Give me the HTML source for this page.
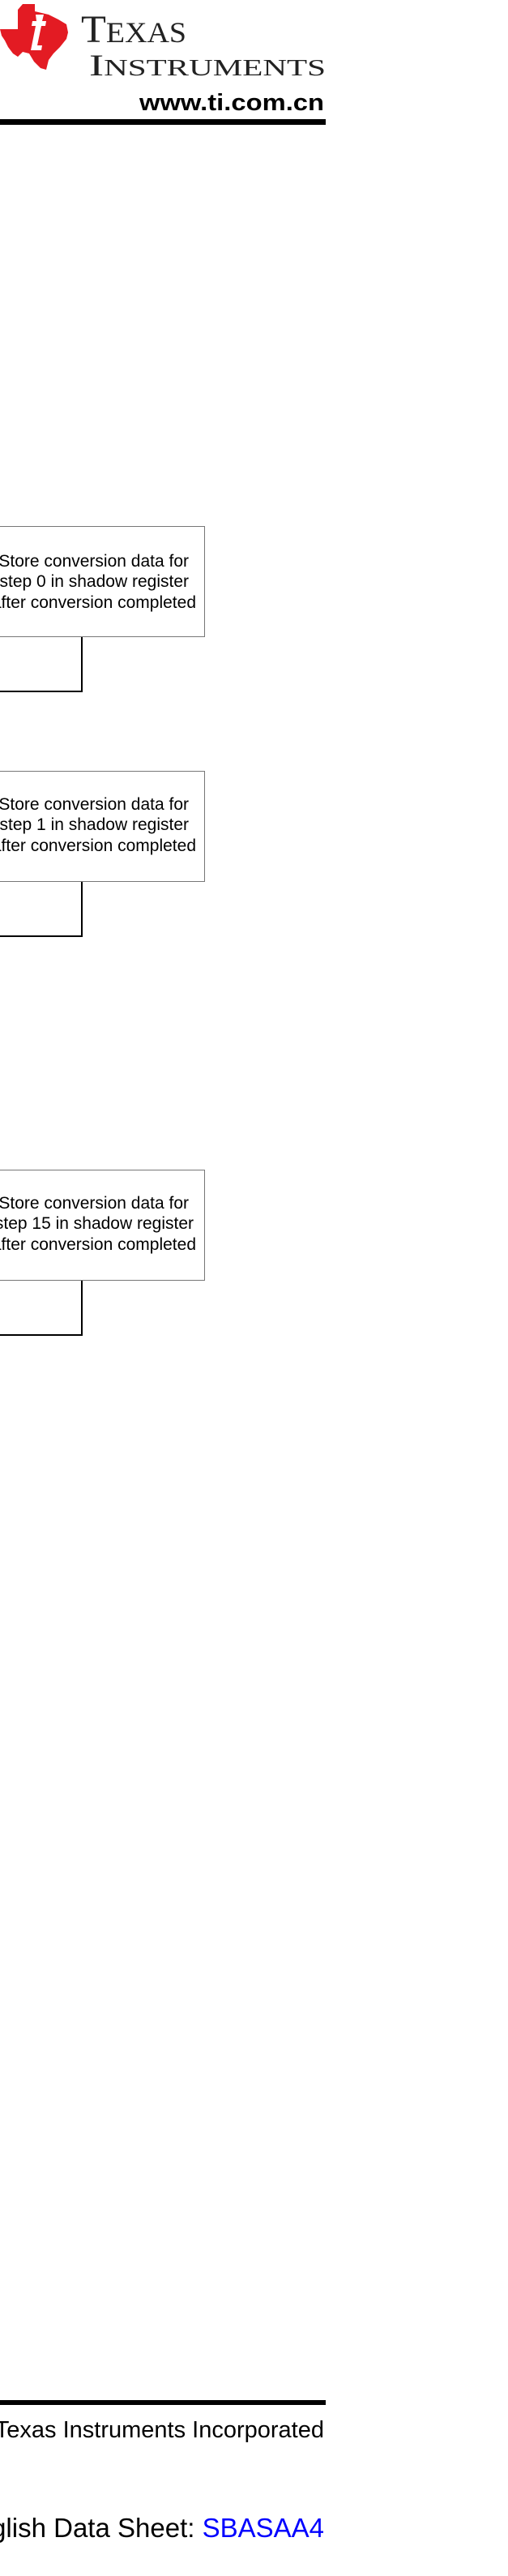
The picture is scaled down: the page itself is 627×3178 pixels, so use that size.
<!DOCTYPE html>
<html><head><meta charset="utf-8"><style>
html,body{margin:0;padding:0;background:#fff;}
body{width:627px;height:3178px;position:relative;overflow:hidden;font-family:"Liberation Sans",Arial,sans-serif;}
.abs{position:absolute;white-space:nowrap;}
.box{position:absolute;left:-200px;width:451px;height:135px;border:1px solid #777;background:#fff;}
.t{position:absolute;white-space:nowrap;font-size:21px;color:#000;text-align:right;line-height:24px;}
.v{position:absolute;left:100px;width:2px;background:#000;}
.h{position:absolute;left:0;width:102px;height:2px;background:#000;}
</style></head><body>
<svg class="abs" style="left:0;top:0" width="627" height="160" viewBox="0 0 627 160">
<polygon fill="#e31b23" points="28,5 43,5 43,14 60,18 72,24 82,30 84,40 82,48 74,58 66,66 60,74 57,86 50,84 42,76 36,66 28,64 22,70 16,66 10,58 6,50 2,44 0,36 22,36 22,12" />
<path fill="#fff" d="M44,18 l10,0 -2,8 5,0 -1,6 -5,0 -5,24 6,0 -1,6 -13,0 6,-30 -5,0 1,-6 5,0z M56,6 l7,0 -1,6 -7,0z"/>
<text x="100" y="52" font-family="Liberation Serif, serif" font-size="48" fill="#222" textLength="130" lengthAdjust="spacingAndGlyphs">T<tspan font-size="36">EXAS</tspan></text>
<text x="110" y="93" font-family="Liberation Serif, serif" font-size="37" fill="#222" textLength="292" lengthAdjust="spacingAndGlyphs">I<tspan font-size="28">NSTRUMENTS</tspan></text>
<text x="172" y="136" font-family="Liberation Sans, Arial, sans-serif" font-size="29" font-weight="bold" fill="#000" textLength="228" lengthAdjust="spacingAndGlyphs">www.ti.com.cn</text>
</svg>
<div class="abs" style="left:0;top:147px;width:402px;height:7px;background:#000;"></div>

<div class="box" style="top:649px"></div>
<div class="t" style="right:394px;top:681px">Store conversion data for</div>
<div class="t" style="right:394px;top:706px">step 0 in shadow register</div>
<div class="t" style="right:385px;top:732px">after conversion completed</div>
<div class="v" style="top:786px;height:68px"></div><div class="h" style="top:852px"></div>

<div class="box" style="top:951px"></div>
<div class="t" style="right:394px;top:981px">Store conversion data for</div>
<div class="t" style="right:394px;top:1006px">step 1 in shadow register</div>
<div class="t" style="right:385px;top:1032px">after conversion completed</div>
<div class="v" style="top:1088px;height:68px"></div><div class="h" style="top:1154px"></div>

<div class="box" style="top:1443px"></div>
<div class="t" style="right:394px;top:1473px">Store conversion data for</div>
<div class="t" style="right:388px;top:1498px">step 15 in shadow register</div>
<div class="t" style="right:385px;top:1524px">after conversion completed</div>
<div class="v" style="top:1580px;height:68px"></div><div class="h" style="top:1646px"></div>

<div class="abs" style="left:0;top:2961px;width:402px;height:6px;background:#000;"></div>
<svg class="abs" style="left:0;top:2970px" width="627" height="180" viewBox="0 2970 627 180">
<text x="400" y="3007" text-anchor="end" font-family="Liberation Sans, Arial, sans-serif" font-size="29" fill="#000">© Texas Instruments Incorporated</text>
<text x="400" y="3130" text-anchor="end" font-family="Liberation Sans, Arial, sans-serif" font-size="33" fill="#000">English Data Sheet: <tspan fill="#00f">SBASAA4</tspan></text>
</svg>
</body></html>
